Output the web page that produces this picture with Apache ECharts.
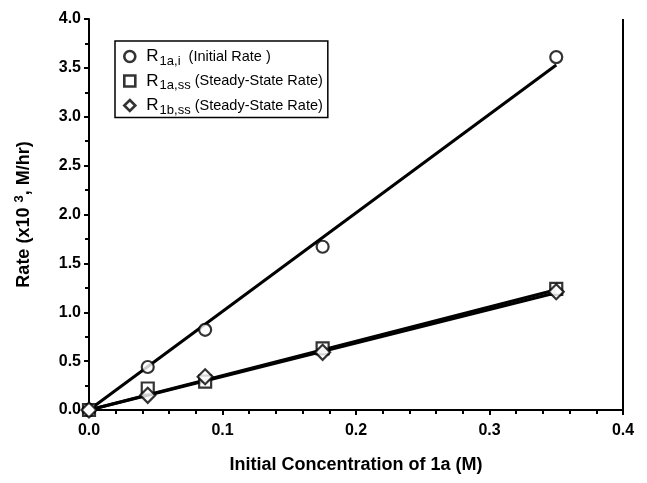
<!DOCTYPE html>
<html>
<head>
<meta charset="utf-8">
<script src="https://cdn.jsdelivr.net/npm/echarts@6/dist/echarts.min.js"></script>
<style>
html, body { margin: 0; padding: 0; background: #fff; }
#main { width: 647px; height: 483px; }
</style>
</head>
<body>
<div id="main"></div>
<script>
// measured points
var conc = [0, 0.044, 0.087, 0.175, 0.35];
var rateInitial = [0, 0.44, 0.82, 1.67, 3.61];   // R1a,i
var rateSs1a = [0, 0.22, 0.29, 0.63, 1.24];      // R1a,ss
var rateSs1b = [0, 0.15, 0.34, 0.59, 1.21];      // R1b,ss

// fitted straight lines (end points)
var fitX = [0, 0.35];
var fitInitial = [0, 3.53];
var fitSs1a = [0, 1.23];
var fitSs1b = [0, 1.20];

var xTicks = ['0.0', '0.1', '0.2', '0.3', '0.4'];

var names = ['R1a,i', 'R1a,ss', 'R1b,ss'];

function pairs(xs, ys) {
    return xs.map(function (x, i) { return [x, ys[i]]; });
}

var font = 'Liberation Sans, Arial, sans-serif';
var markStyle = { color: '#fff', borderColor: '#000', borderWidth: 2.2 };

var myChart = echarts.init(document.getElementById('main'));
var option = {
    animation: false,
    backgroundColor: '#fff',
    grid: { left: 89, right: 24, top: 19, bottom: 73 },
    legend: {
        orient: 'vertical',
        left: 115,
        top: 41,
        padding: [7, 5, 1, 8],
        itemGap: 5,
        itemWidth: 11,
        itemHeight: 11,
        borderColor: '#000',
        borderWidth: 1.5,
        itemStyle: { color: '#fff', borderColor: '#000', borderWidth: 2.6 },
        data: [
            { name: names[0], icon: 'circle' },
            { name: names[1], icon: 'rect' },
            { name: names[2], icon: 'diamond' }
        ],
        formatter: function (n) {
            if (n === names[0]) return '{r|R}{s|1a,i}{t|  (Initial Rate )}';
            if (n === names[1]) return '{r|R}{s|1a,ss}{t| (Steady-State Rate)}';
            return '{r|R}{s|1b,ss}{t| (Steady-State Rate)}';
        },
        textStyle: {
            fontFamily: font,
            color: '#000',
            rich: {
                r: { fontSize: 17, fontFamily: font, color: '#000', padding: [0, 1, 0, 6] },
                s: { fontSize: 13, fontFamily: font, color: '#000', padding: [9, 0, 0, 0] },
                t: { fontSize: 14.5, fontFamily: font, color: '#000' }
            }
        }
    },
    xAxis: {
        type: 'value',
        min: 0,
        max: 0.4,
        interval: 0.1,
        name: 'Initial Concentration of 1a (M)',
        nameLocation: 'middle',
        nameGap: 46,
        nameTextStyle: { fontFamily: font, fontSize: 18, fontWeight: 'bold', color: '#000' },
        axisLine: { show: true, onZero: false, lineStyle: { color: '#000', width: 2 } },
        axisTick: { show: true, length: 5, lineStyle: { color: '#000', width: 2 } },
        minorTick: { show: true, splitNumber: 5, length: 4, lineStyle: { color: '#000', width: 2 } },
        axisLabel: {
            fontFamily: font, fontSize: 16, fontWeight: 'bold', color: '#000', margin: 13,
            formatter: function (v) { return xTicks[Math.round(v * 10)]; }
        },
        splitLine: { show: false }
    },
    yAxis: {
        type: 'value',
        min: 0,
        max: 4,
        interval: 0.5,
        name: '{a|Rate (x10 }{b|3}{a|, M/hr)}',
        nameLocation: 'middle',
        nameGap: 54,
        nameTextStyle: {
            rich: {
                a: { fontFamily: font, fontSize: 18, fontWeight: 'bold', color: '#000' },
                b: { fontFamily: font, fontSize: 13, fontWeight: 'bold', color: '#000', padding: [0, 0, 9, 0] }
            }
        },
        axisLine: { show: true, onZero: false, lineStyle: { color: '#000', width: 2 } },
        axisTick: { show: true, length: 5, lineStyle: { color: '#000', width: 2 } },
        minorTick: { show: true, splitNumber: 2, length: 4, lineStyle: { color: '#000', width: 2 } },
        axisLabel: {
            fontFamily: font, fontSize: 16, fontWeight: 'bold', color: '#000', margin: 8,
            formatter: function (v) { return v.toFixed(1); }
        },
        splitLine: { show: false }
    },
    series: [
        {
            name: 'fit1', type: 'line', data: pairs(fitX, fitInitial), symbol: 'none',
            lineStyle: { color: '#000', width: 3 }, z: 2, silent: true
        },
        {
            name: 'fit2', type: 'line', data: pairs(fitX, fitSs1a), symbol: 'none',
            lineStyle: { color: '#000', width: 3 }, z: 2, silent: true
        },
        {
            name: 'fit3', type: 'line', data: pairs(fitX, fitSs1b), symbol: 'none',
            lineStyle: { color: '#000', width: 3 }, z: 2, silent: true
        },
        {
            name: names[0], type: 'scatter', symbol: 'circle', symbolSize: 12,
            data: pairs(conc, rateInitial), itemStyle: markStyle, z: 5
        },
        {
            name: names[1], type: 'scatter', symbol: 'rect', symbolSize: 12,
            data: pairs(conc, rateSs1a), itemStyle: markStyle, z: 5
        },
        {
            name: names[2], type: 'scatter', symbol: 'diamond', symbolSize: 15,
            data: pairs(conc, rateSs1b), itemStyle: markStyle, z: 5
        }
    ]
};
myChart.setOption(option);

// right border of the plot box
var rect = myChart.getModel().getComponent('grid').coordinateSystem.getRect();
myChart.setOption({
    graphic: [{
        type: 'line', z: 1,
        shape: { x1: rect.x + rect.width, y1: rect.y, x2: rect.x + rect.width, y2: rect.y + rect.height },
        style: { stroke: '#000', lineWidth: 2 }
    }]
});
</script>
</body>
</html>
